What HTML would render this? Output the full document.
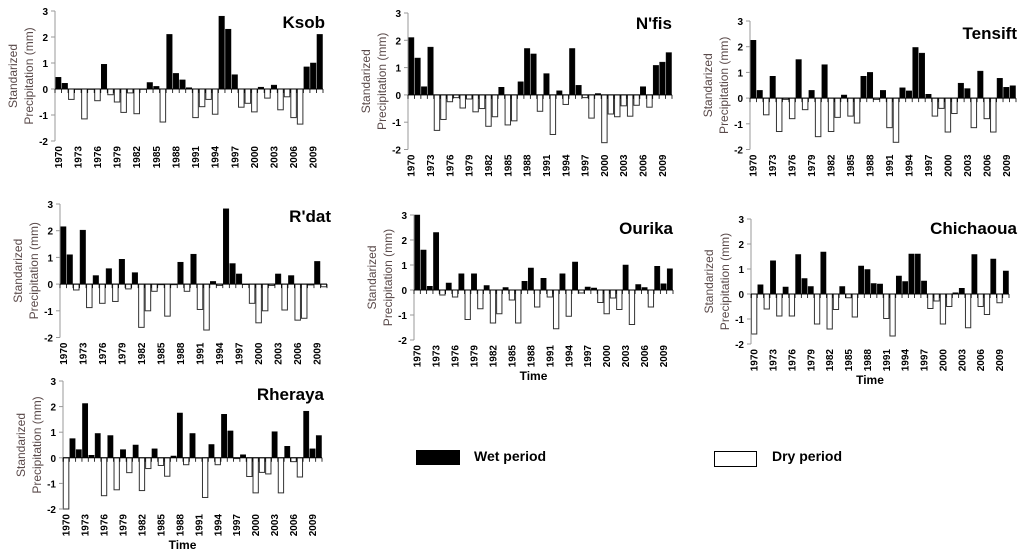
<!DOCTYPE html>
<html><head><meta charset="utf-8"><style>
html,body{margin:0;padding:0;background:#fff;width:1024px;height:558px;overflow:hidden}
svg{display:block;font-family:"Liberation Sans",sans-serif}
</style></head><body>
<svg id="chart" width="1024" height="558" viewBox="0 0 1024 558">
<rect x="416" y="450" width="44" height="15" fill="#000"/>
<text x="474" y="461" font-size="14" font-weight="bold">Wet period</text>
<rect x="714.5" y="451.5" width="42" height="15" fill="#fff" stroke="#000"/>
<text x="772" y="461" font-size="14" font-weight="bold">Dry period</text>
</svg>
<script>
const years = [];
for (let y = 1970; y <= 2010; y++) years.push(y);
const yTicks = [3, 2, 1, 0, -1, -2];
const ksob = [0.45,0.22,-0.4,0,-1.15,0,-0.45,0.95,-0.22,-0.5,-0.9,-0.15,-0.95,0,0.25,0.1,-1.27,2.1,0.6,0.35,0.05,-1.1,-0.68,-0.4,-0.97,2.8,2.3,0.55,-0.7,-0.55,-0.88,0.07,-0.35,0.15,-0.8,-0.3,-1.1,-1.35,0.85,1.0,2.1];
const nfis = [2.1,1.35,0.3,1.75,-1.3,-0.9,-0.25,-0.1,-0.48,-0.15,-0.62,-0.5,-1.15,-0.8,0.28,-1.1,-0.95,0.48,1.7,1.5,-0.6,0.78,-1.45,0.15,-0.35,1.7,0.35,-0.1,-0.85,0.05,-1.75,-0.7,-0.8,-0.4,-0.78,-0.38,0.3,-0.45,1.08,1.2,1.55];
const tensift = [2.25,0.3,-0.65,0.85,-1.3,-0.05,-0.8,1.5,-0.45,0.3,-1.5,1.3,-1.3,-0.75,0.12,-0.7,-0.97,0.85,1.0,-0.05,0.3,-1.15,-1.72,0.4,0.28,1.97,1.75,0.15,-0.7,-0.4,-1.32,-0.6,0.58,0.37,-1.15,1.05,-0.8,-1.32,0.77,0.42,0.48];
const rdat = [2.15,1.1,-0.22,2.02,-0.88,0.32,-0.72,0.58,-0.65,0.93,-0.18,0.43,-1.62,-1.0,-0.27,-0.02,-1.2,-0.02,0.82,-0.27,1.12,-0.95,-1.72,0.1,-0.05,2.82,0.77,0.38,0.0,-0.72,-1.45,-1.0,-0.05,0.38,-0.97,0.32,-1.35,-1.28,-0.03,0.85,-0.1];
const ourika = [3.0,1.6,0.15,2.3,-0.2,0.28,-0.28,0.65,-1.18,0.65,-0.75,0.18,-1.32,-0.95,0.1,-0.4,-1.32,0.35,0.88,-0.68,0.47,-0.28,-1.55,0.65,-1.05,1.12,-0.12,0.12,0.08,-0.5,-0.95,-0.32,-0.78,1.0,-1.38,0.22,0.1,-0.68,0.95,0.25,0.85];
const chichaoua = [-1.6,0.37,-0.6,1.33,-0.88,0.28,-0.88,1.58,0.62,0.3,-1.2,1.68,-1.4,-0.62,0.3,-0.15,-0.92,1.12,0.98,0.42,0.4,-0.98,-1.68,0.72,0.5,1.6,1.6,0.52,-0.58,-0.28,-1.2,-0.5,0.05,0.23,-1.35,1.58,-0.5,-0.82,1.4,-0.35,0.92];
const rheraya = [-2.0,0.75,0.32,2.12,0.1,0.95,-1.48,0.87,-1.25,0.32,-0.58,0.5,-1.28,-0.42,0.35,-0.3,-0.72,0.07,1.75,-0.27,0.95,0,-1.55,0.52,-0.27,1.7,1.05,-0.03,0.12,-0.73,-1.37,-0.57,-0.63,1.02,-1.37,0.45,-0.15,-0.75,1.82,0.35,0.87];

const NS = 'http://www.w3.org/2000/svg';
const svg = document.getElementById('chart');
function mk(tag, attrs, parent) {
  const e = document.createElementNS(NS, tag);
  for (const k in attrs) e.setAttribute(k, attrs[k]);
  parent.appendChild(e);
  return e;
}
function panel(name, slug, values, ax, right, y3, ppu, titleX, titleY, showTime) {
  const g = mk('g', {}, svg);
  
  
  const yScale = v => y3 + (3 - v) * ppu;
  const slot = (right - ax) / years.length;
  const xScale = i => ax + i * slot;
  const y0 = yScale(0);
  // bars
  values.forEach((v, i) => {
    const top = Math.min(yScale(v), y0), h = Math.abs(yScale(v) - y0);
    const r = mk('rect', {x: xScale(i) + 0.5, y: top, width: slot - 1, height: Math.max(h, 0.5),
      fill: v >= 0 ? '#000' : '#fff', stroke: v >= 0 ? '#000' : '#333', 'stroke-width': v >= 0 ? 0.5 : 1}, g);
    
    
  });
  // y axis
  const yl = mk('line', {x1: ax, x2: ax, y1: yScale(3), y2: yScale(-2), stroke: '#999', 'stroke-width': 1}, g);
  
  
  yTicks.forEach(t => {
    mk('line', {x1: ax - 4, x2: ax, y1: yScale(t), y2: yScale(t), stroke: '#999'}, g);
    const tx = mk('text', {x: ax - 7, y: yScale(t) + 4, 'font-size': 10, 'font-weight': 'bold', 'text-anchor': 'end'}, g);
    tx.textContent = t;
    
    
  });
  // x axis
  const xl = mk('line', {x1: ax, x2: right, y1: y0, y2: y0, stroke: '#000', 'stroke-width': 1}, g);
  
  
  for (let i = 0; i <= years.length; i++) {
    mk('line', {x1: xScale(i), x2: xScale(i), y1: y0, y2: y0 + 4, stroke: '#000', 'stroke-width': 0.8}, g);
  }
  const ly = yScale(-2) + 5;
  years.forEach((yr, i) => {
    if ((yr - 1970) % 3 !== 0) return;
    const cx = xScale(i) + slot / 2 + 3.5;
    const tx = mk('text', {x: cx, y: ly, 'font-size': 10, 'font-weight': 'bold', 'text-anchor': 'end',
      transform: 'rotate(-90 ' + cx + ' ' + ly + ')'}, g);
    tx.textContent = yr;
    
    
  });
  // y title
  const cy = (yScale(3) + yScale(-2)) / 2;
  const t1 = mk('text', {x: ax - 38, y: cy, 'font-size': 12, fill: '#5a4a4a', 'text-anchor': 'middle',
    transform: 'rotate(-90 ' + (ax - 38) + ' ' + cy + ')'}, g);
  t1.textContent = 'Standarized';
  
  
  const t2 = mk('text', {x: ax - 22, y: cy, 'font-size': 12, fill: '#5a4a4a', 'text-anchor': 'middle',
    transform: 'rotate(-90 ' + (ax - 22) + ' ' + cy + ')'}, g);
  t2.textContent = 'Precipitation (mm)';
  
  
  // title
  const tt = mk('text', {x: titleX, y: titleY, 'font-size': 17, 'font-weight': 'bold', 'text-anchor': 'end'}, g);
  tt.textContent = name;
  
  
  if (showTime) {
    const tm = mk('text', {x: (ax + right) / 2 - 10, y: ly + 35, 'font-size': 12, 'font-weight': 'bold', 'text-anchor': 'middle'}, g);
    tm.textContent = 'Time';
    
    
  }
}
panel('Ksob', 'ksob', ksob, 55, 323, 11, 26, 325, 28, false);
panel("N'fis", 'nfis', nfis, 408, 672, 13, 27.3, 672, 29, false);
panel('Tensift', 'tensift', tensift, 750, 1016, 21, 25.7, 1017, 39, false);
panel("R'dat", 'rdat', rdat, 60, 327, 204, 26.7, 331, 222, false);
panel('Ourika', 'ourika', ourika, 414, 673, 215, 25, 673, 234, true);
panel('Chichaoua', 'chichaoua', chichaoua, 751, 1009, 219, 25, 1017, 234, true);
panel('Rheraya', 'rheraya', rheraya, 63, 322, 381, 25.6, 324, 400, true);
</script>
</body></html>
